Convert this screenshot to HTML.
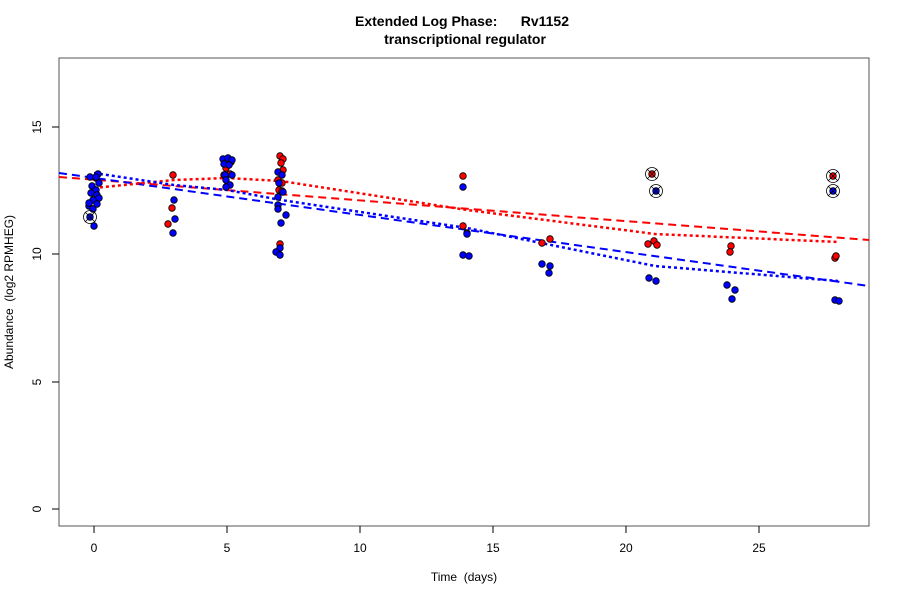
<!DOCTYPE html>
<html><head><meta charset="utf-8"><style>body{margin:0;background:#fff}svg{display:block}text{font-family:"Liberation Sans",sans-serif}</style></head>
<body>
<svg width="900" height="600" xmlns="http://www.w3.org/2000/svg">
<rect width="900" height="600" fill="#fff"/>
<text x="462" y="26" font-size="14" font-weight="bold" text-anchor="middle" style="white-space:pre">Extended Log Phase:      Rv1152</text>
<text x="465" y="44" font-size="14" font-weight="bold" text-anchor="middle">transcriptional regulator</text>
<rect x="59" y="58" width="810" height="468" fill="none" stroke="#555" stroke-width="1"/>
<g stroke="#000" fill="none">
<path d="M94 526v7M227 526v7M360 526v7M493 526v7M626 526v7M759 526v7"/>
<path d="M59 509h-7M59 382h-7M59 254h-7M59 127h-7"/>
</g>
<g font-size="12" text-anchor="middle">
<text x="94" y="552">0</text><text x="227" y="552">5</text><text x="360" y="552">10</text><text x="493" y="552">15</text><text x="626" y="552">20</text><text x="759" y="552">25</text>
<text transform="translate(41 509) rotate(-90)">0</text>
<text transform="translate(41 382) rotate(-90)">5</text>
<text transform="translate(41 254) rotate(-90)">10</text>
<text transform="translate(41 127) rotate(-90)">15</text>
<text x="464" y="581" style="white-space:pre">Time  (days)</text>
<text transform="translate(13 292) rotate(-90)" style="white-space:pre">Abundance  (log2 RPMHEG)</text>
</g>
<g fill="none" stroke-width="2">
<path d="M59 177L869 240" stroke="#f00" stroke-dasharray="8 5"/>
<path d="M59 173L869 286" stroke="#00f" stroke-dasharray="8 5"/>
<path d="M94 188L174 180L227 178L281 181L467 210L655 234L838 242" stroke="#f00" stroke-dasharray="3 3" stroke-width="2.5"/>
<path d="M94 173L174 185L227 190L281 200L467 228L655 266L838 281" stroke="#00f" stroke-dasharray="3 3" stroke-width="2.5"/>
</g>
<g stroke="#000" stroke-width="0.8">
<g fill="#f00">
<circle cx="96" cy="178" r="3.3"/><circle cx="173" cy="175" r="3.3"/><circle cx="168" cy="224" r="3.3"/><circle cx="172" cy="208" r="3.3"/>
<circle cx="231" cy="162" r="3.3"/><circle cx="224" cy="175" r="3.3"/><circle cx="230" cy="174" r="3.3"/><circle cx="226" cy="168" r="3.3"/>
<circle cx="280" cy="156" r="3.3"/><circle cx="283" cy="159" r="3.3"/><circle cx="281" cy="163" r="3.3"/><circle cx="283" cy="170" r="3.3"/><circle cx="278" cy="180" r="3.3"/><circle cx="282" cy="183" r="3.3"/><circle cx="279" cy="190" r="3.3"/><circle cx="282" cy="191" r="3.3"/><circle cx="280" cy="244" r="3.3"/>
<circle cx="463" cy="176" r="3.3"/><circle cx="463" cy="226" r="3.3"/><circle cx="467" cy="233" r="3.3"/>
<circle cx="542" cy="243" r="3.3"/><circle cx="550" cy="239" r="3.3"/>
<circle cx="648" cy="244" r="3.3"/><circle cx="654" cy="241" r="3.3"/><circle cx="657" cy="245" r="3.3"/>
<circle cx="731" cy="246" r="3.3"/><circle cx="730" cy="252" r="3.3"/>
<circle cx="835" cy="258" r="3.3"/><circle cx="836" cy="256" r="3.3"/>
<circle cx="652" cy="174" r="3.3"/><circle cx="833" cy="176" r="3.3"/>
</g>
<g fill="#00f">
<circle cx="90" cy="177" r="3.3"/><circle cx="98" cy="174" r="3.3"/><circle cx="96" cy="177" r="3.3"/><circle cx="99" cy="183" r="3.3"/><circle cx="92" cy="186" r="3.3"/><circle cx="96" cy="190" r="3.3"/><circle cx="91" cy="193" r="3.3"/><circle cx="97" cy="195" r="3.3"/><circle cx="99" cy="198" r="3.3"/><circle cx="93" cy="200" r="3.3"/><circle cx="97" cy="204" r="3.3"/><circle cx="89" cy="206" r="3.3"/><circle cx="93" cy="209" r="3.3"/><circle cx="89" cy="203" r="3.3"/><circle cx="94" cy="226" r="3.3"/><circle cx="90" cy="217" r="3.3"/>
<circle cx="174" cy="200" r="3.3"/><circle cx="175" cy="219" r="3.3"/><circle cx="173" cy="233" r="3.3"/>
<circle cx="223" cy="159" r="3.3"/><circle cx="228" cy="158" r="3.3"/><circle cx="232" cy="160" r="3.3"/><circle cx="224" cy="164" r="3.3"/><circle cx="229" cy="165" r="3.3"/><circle cx="225" cy="175" r="3.3"/><circle cx="232" cy="175" r="3.3"/><circle cx="226" cy="180" r="3.3"/><circle cx="230" cy="185" r="3.3"/><circle cx="226" cy="187" r="3.3"/>
<circle cx="278" cy="172" r="3.3"/><circle cx="282" cy="175" r="3.3"/><circle cx="279" cy="183" r="3.3"/><circle cx="283" cy="192" r="3.3"/><circle cx="278" cy="197" r="3.3"/><circle cx="278" cy="205" r="3.3"/><circle cx="278" cy="209" r="3.3"/><circle cx="286" cy="215" r="3.3"/><circle cx="281" cy="223" r="3.3"/><circle cx="280" cy="248" r="3.3"/><circle cx="276" cy="252" r="3.3"/><circle cx="280" cy="255" r="3.3"/>
<circle cx="463" cy="187" r="3.3"/><circle cx="463" cy="255" r="3.3"/><circle cx="469" cy="256" r="3.3"/><circle cx="467" cy="234" r="3.3"/>
<circle cx="542" cy="264" r="3.3"/><circle cx="550" cy="266" r="3.3"/><circle cx="549" cy="273" r="3.3"/>
<circle cx="649" cy="278" r="3.3"/><circle cx="656" cy="281" r="3.3"/>
<circle cx="727" cy="285" r="3.3"/><circle cx="735" cy="290" r="3.3"/><circle cx="732" cy="299" r="3.3"/>
<circle cx="835" cy="300" r="3.3"/><circle cx="839" cy="301" r="3.3"/>
<circle cx="656" cy="191" r="3.3"/><circle cx="833" cy="191" r="3.3"/>
</g>
<g fill="none" stroke="#000" stroke-width="0.8">
<circle cx="90" cy="217" r="6.5"/><path d="M85 212l10 10M95 212l-10 10"/>
<circle cx="652" cy="174" r="6.5"/><path d="M647 169l10 10M657 169l-10 10"/>
<circle cx="656" cy="191" r="6.5"/><path d="M651 186l10 10M661 186l-10 10"/>
<circle cx="833" cy="176" r="6.5"/><path d="M828 171l10 10M838 171l-10 10"/>
<circle cx="833" cy="191" r="6.5"/><path d="M828 186l10 10M838 186l-10 10"/>
</g>
</g>
</svg>
</body></html>
